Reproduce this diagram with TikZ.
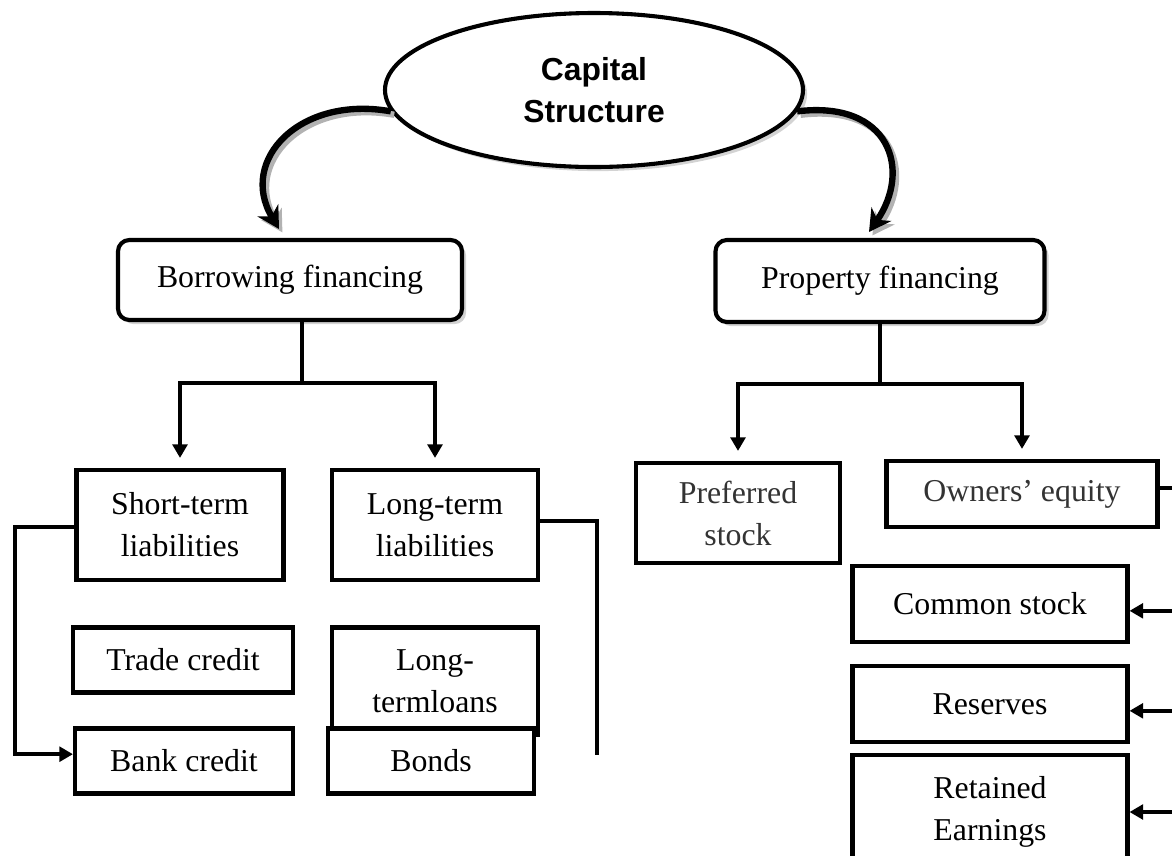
\documentclass[tikz,border=0pt]{standalone}
\usepackage{fontspec}
\setmainfont{Liberation Serif}
\newfontfamily\headfont{Liberation Sans}
\usetikzlibrary{shapes.geometric,arrows.meta,shadows}

\tikzset{
  wh/.style 2 args={minimum width=#1*0.44pt, minimum height=#2*0.44pt},
  shade/.style={drop shadow={opacity=0.35, shadow xshift=1.8pt, shadow yshift=-1.8pt}},
  box/.style={draw, line width=1.8pt, fill=white, inner sep=0pt, align=center,
    font=\fontsize{14}{18.5}\selectfont},
  topbox/.style={box, rounded corners=5pt, shade},
  conn/.style={line width=1.7pt},
  arr/.style={conn, -{Triangle[length=6pt,width=6.5pt]}},
  bigarr/.style={line width=2.8pt, -{Stealth[length=9.5pt,width=10.5pt,inset=3pt]}},
  bigshade/.style={bigarr, black!30, transform canvas={shift={(1.5pt,-1.5pt)}}}
}

\begin{document}
\begin{tikzpicture}[x=0.44pt,y=-0.44pt]
  \useasboundingbox (0,0) rectangle (1172,855);
  \clip (0,0) rectangle (1172,855);

  % root
  \node[ellipse, draw, line width=1.8pt, fill=white, inner sep=0pt, wh={418}{154},
    align=center, font=\headfont\bfseries\fontsize{14}{18.5}\selectfont, shade]
    (cap) at (594,90) {Capital\\Structure};

  % two kinds of financing
  \node[topbox, wh={344}{80}] (borrow) at (290,280) {Borrowing financing};
  \node[topbox, wh={329}{82}] (prop) at (880,281) {Property financing};

  \coordinate (ltip) at (279,229);
  \coordinate (rtip) at (869,232);
  \draw[bigshade] (cap.186) .. controls (300,95) and (238,160) .. (ltip);
  \draw[bigshade] (cap.-6) .. controls (890,100) and (912,170) .. (rtip);
  \draw[bigarr] (cap.186) .. controls (300,95) and (238,160) .. (ltip);
  \draw[bigarr] (cap.-6) .. controls (890,100) and (912,170) .. (rtip);

  % borrowing side
  \node[box, wh={207}{110}] (short) at (180,525) {Short-term\\liabilities};
  \node[box, wh={206}{110}] (long) at (435,525) {Long-term\\liabilities};
  \node[box, wh={220}{65}] (trade) at (183,660) {Trade credit};
  \node[box, wh={206}{107}] (loans) at (435,681) {Long-\\termloans};
  \node[box, wh={218}{65}] (bank) at (184,761) {Bank credit};
  \node[box, wh={206}{65}] (bonds) at (431,761) {Bonds};

  \coordinate (bsplit) at (302,383);
  \draw[conn] (borrow.south -| bsplit) -- (bsplit);
  \draw[arr, shorten >=4.4pt] (bsplit) -| (short.north);
  \draw[arr, shorten >=4.4pt] (bsplit) -| (long.north);

  \coordinate (lrail) at (15,527);
  \draw[arr] (short.west |- lrail) -- (lrail) |- ([yshift=3pt]bank.west);
  \coordinate (rrail) at (597,521);
  \coordinate (rend) at (597,755);
  \draw[conn] (long.east |- rrail) -- (rrail) -- (rend);

  % property side
  \node[box, wh={204}{100}, text=black!80] (pref) at (738,513) {Preferred\\stock};
  \node[box, wh={271}{66}, text=black!80] (owner) at (1022,494) {Owners’ equity};
  \node[box, wh={275}{76}] (common) at (990,604) {Common stock};
  \node[box, wh={275}{76}] (reserve) at (990,704) {Reserves};
  \node[box, wh={275}{114}] (retain) at (990,812) {Retained\\Earnings};

  \coordinate (psplit) at (880,384);
  \draw[conn] (prop.south -| psplit) -- (psplit);
  \draw[arr, shorten >=4.4pt] (psplit) -| (pref.north);
  \draw[arr, shorten >=4.4pt] (psplit) -| (owner.north);

  \coordinate (erail) at (1185,488);
  \draw[conn] (owner.east |- erail) -- (erail) -- (erail |- retain.east);
  \draw[arr] ([yshift=-3pt]erail |- common.east) -- ([yshift=-3pt]common.east);
  \draw[arr] ([yshift=-3pt]erail |- reserve.east) -- ([yshift=-3pt]reserve.east);
  \draw[arr] (erail |- retain.east) -- (retain.east);
\end{tikzpicture}
\end{document}
